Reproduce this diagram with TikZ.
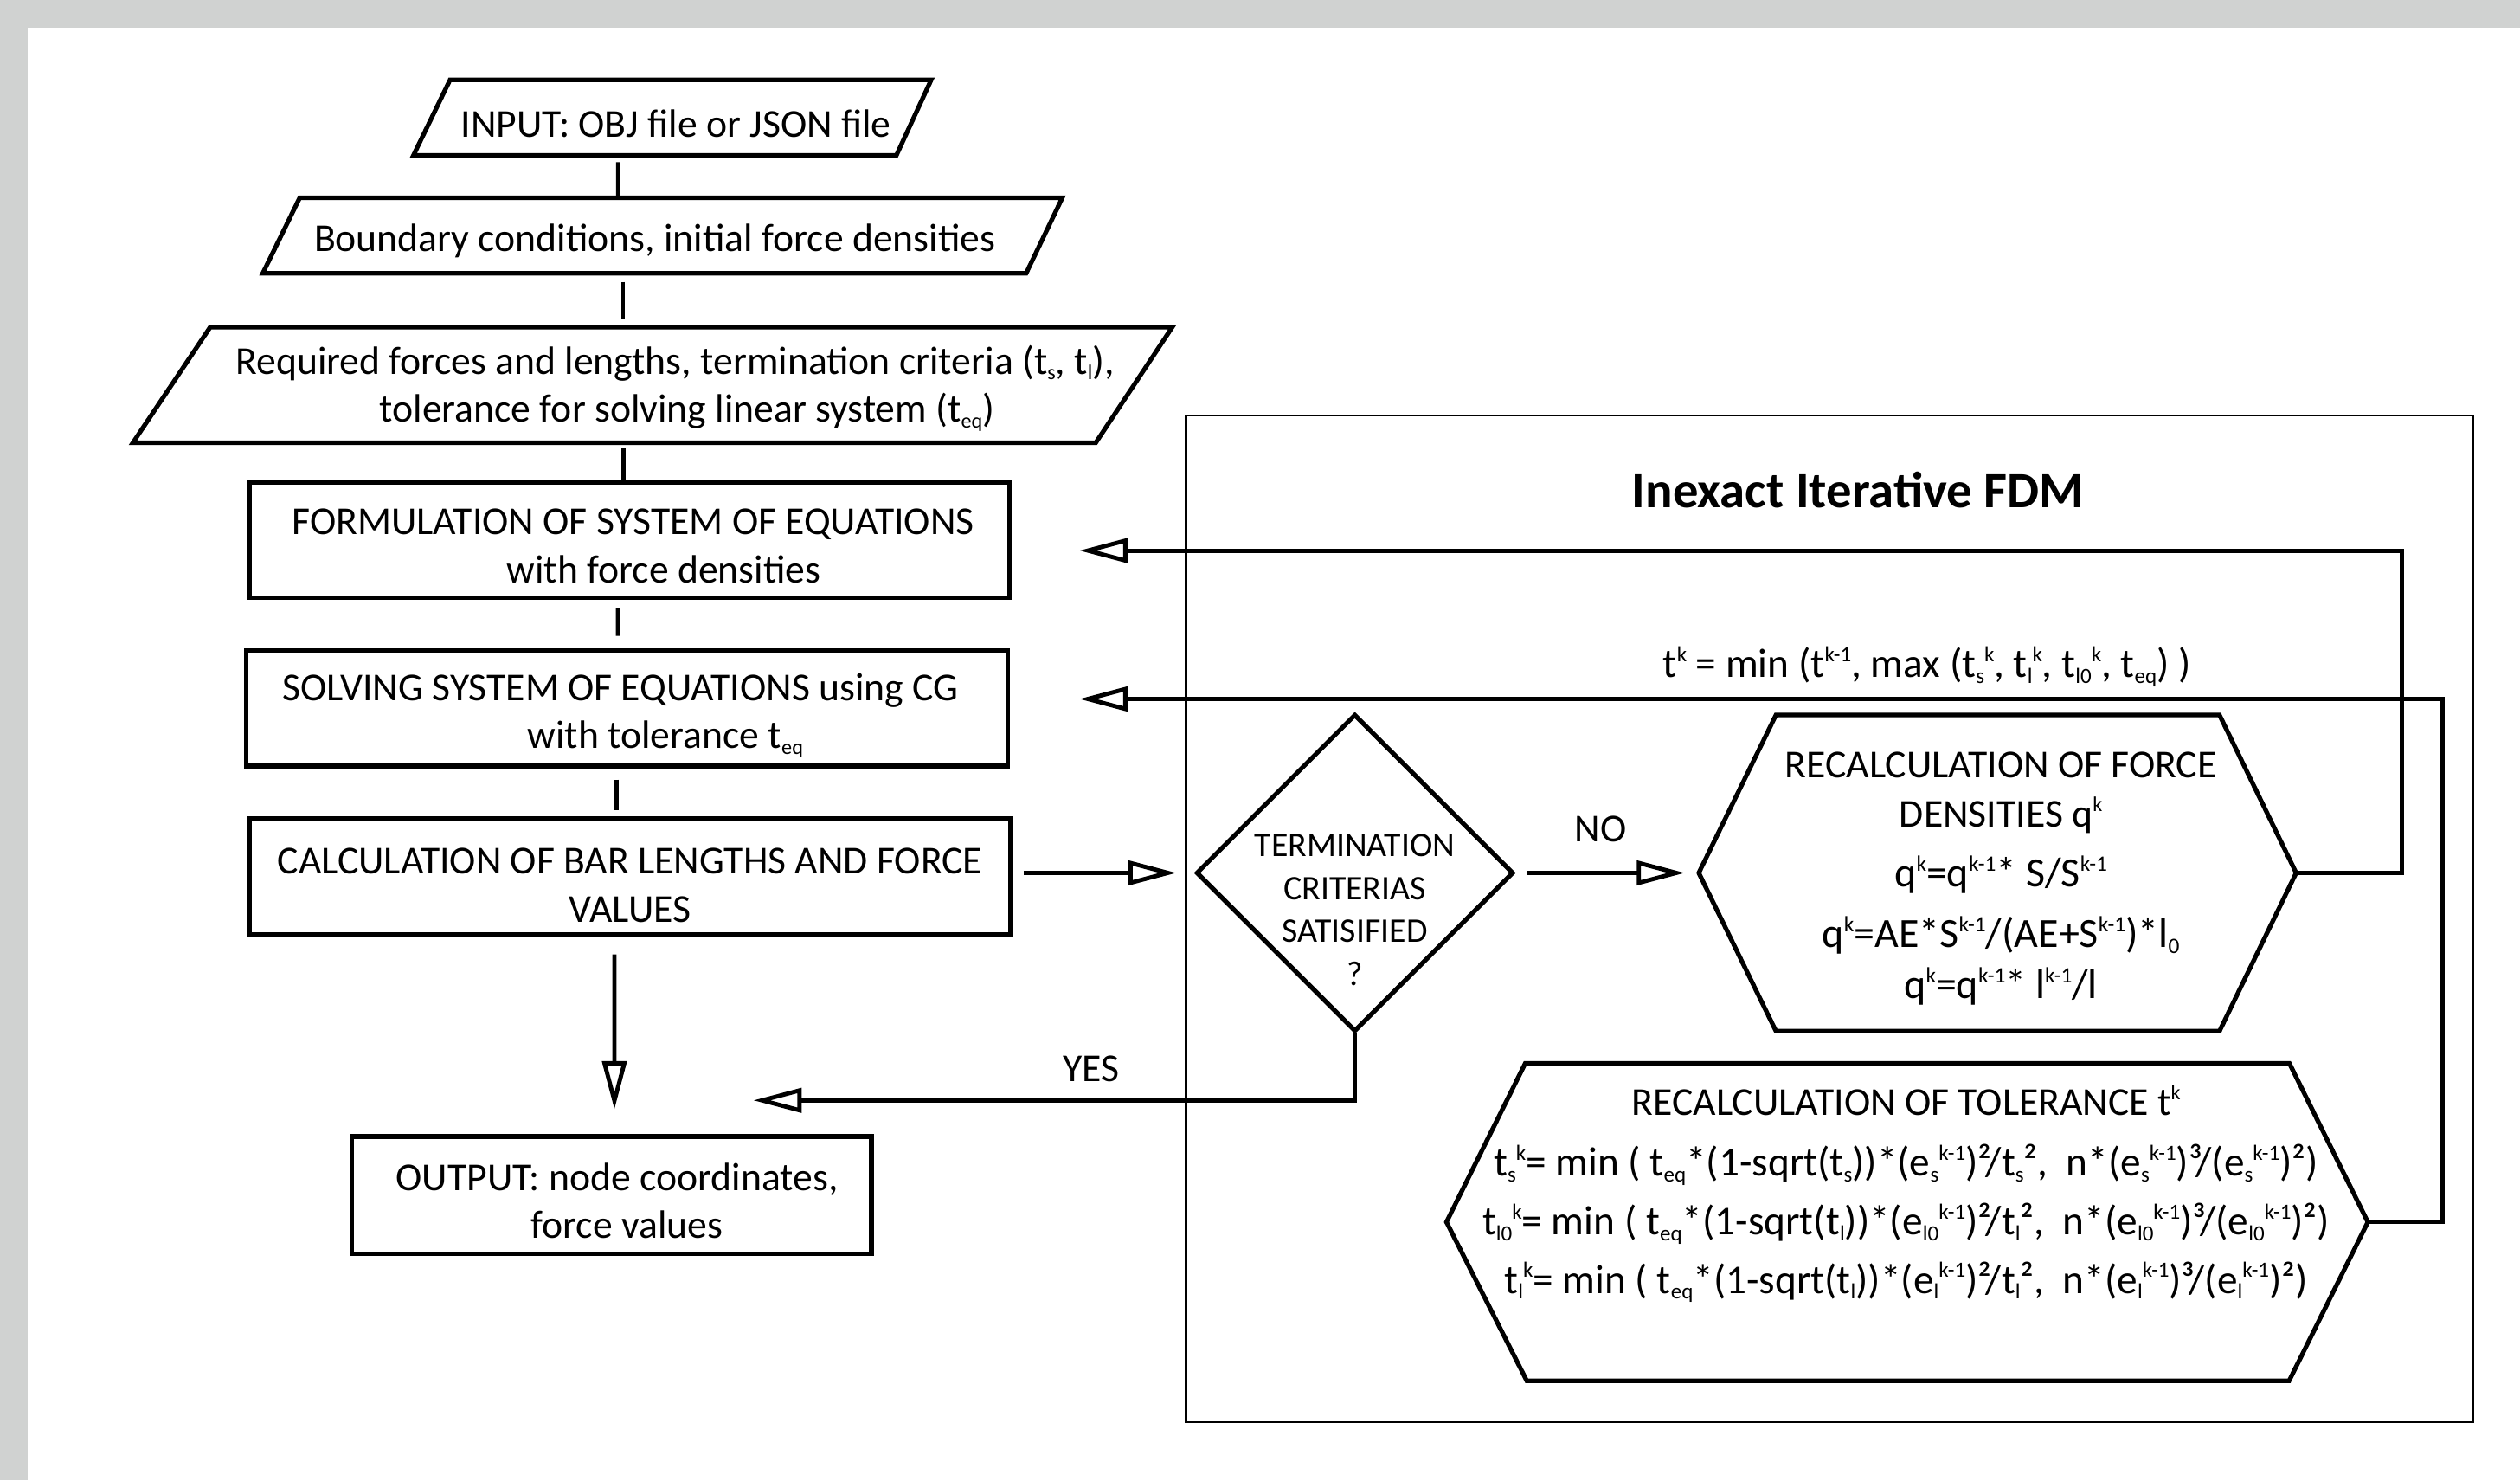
\documentclass[tikz,border=0pt]{standalone}
\usepackage{graphicx}
\usepackage{fontspec}
\setmainfont{Carlito}
\usetikzlibrary{arrows.meta,shapes.geometric,calc}
\newcommand\tsb[1]{\raisebox{-0.3ex}{\scalebox{0.53}{#1}}}
\newcommand\tsp[1]{\raisebox{0.8ex}{\scalebox{0.53}{#1}}}
\definecolor{bggray}{RGB}{208,210,209}
\begin{document}
\begin{tikzpicture}[x=0.02cm,y=-0.02cm,
  shp/.style={draw, line width=1.6pt},
  box/.style={draw, line width=1.6pt, inner sep=0pt},
  txt/.style={inner sep=0pt, align=center, font=\fontsize{14}{17.07}\selectfont},
  conn/.style={line width=1.5pt},
  arr/.style={line width=1.5pt, -{Triangle[open, length=0.6cm, width=0.3cm]}},
  frame/.style={draw, line width=0.7pt},
]
\fill[bggray] (0,0) rectangle (1568,921);
\fill[white] (17,17) rectangle (1568,921);
\useasboundingbox (0,0) rectangle (1568,921);

% parallelograms
\draw[shp] (280,49.7) -- (579.4,49.7) -- (557.7,96.7) -- (257.2,96.7) -- cycle;
\node[txt, minimum height=0.94cm] (inp) at (420.7,76.7) {INPUT: OBJ file or JSON file};
\draw[shp] (186.5,123) -- (661,123) -- (638.5,170) -- (163.5,170) -- cycle;
\node[txt, minimum height=0.94cm] (bnd) at (407.5,150) {Boundary conditions, initial force densities};
\draw[shp] (130.8,203.5) -- (729.4,203.5) -- (681.8,275.4) -- (82.7,275.4) -- cycle;
\node[txt, minimum height=1.44cm] (req) at (420,241.5) {Required forces and lengths, termination criteria (t\tsb{s}, t\tsb{l}),\\\hspace*{0.3cm}tolerance for solving linear system (t\tsb{eq})};

% rectangles
\node[box, minimum width=9.46cm, minimum height=1.44cm] (form) at (391.5,336) {};
\node[txt] (formt) at (391.5,339.5) {\hspace*{0.1cm}FORMULATION OF SYSTEM OF EQUATIONS\\\hspace*{0.86cm}with force densities};
\node[box, minimum width=9.48cm, minimum height=1.44cm] (solv) at (390,440.5) {};
\node[txt] (solvt) at (390,445.1) {\hspace*{-0.16cm}SOLVING SYSTEM OF EQUATIONS using CG\\\hspace*{0.96cm}with tolerance t\tsb{eq}};
\node[box, minimum width=9.48cm, minimum height=1.45cm] (calc) at (392,545.3) {};
\node[txt] (calct) at (392,550.6) {CALCULATION OF BAR LENGTHS AND FORCE\\VALUES};
\node[box, minimum width=6.47cm, minimum height=1.46cm] (outp) at (380.5,743.5) {};
\node[txt] (outpt) at (380.5,747) {\hspace*{0.14cm}OUTPUT: node coordinates,\\\hspace*{0.38cm}force values};

% left connectors
\draw[conn] ($(inp.south)+(-36.1,0.3)$) -- ($(bnd.north)+(-22.9,-1.8)$);
\draw[conn] ($(bnd.south)+(-19.8,1.5)$) -- ($(req.north)+(-32.3,-6.5)$);
\draw[conn] ($(req.south)+(-32,1)$) -- ($(form.north)+(-3.5,0)$);
\draw[conn] ($(form.south)+(-7,5)$) -- ($(solv.north)+(-5.5,-7.5)$);
\draw[conn] ($(solv.south)+(-6.3,7.1)$) -- ($(calc.north)+(-8.3,-3.4)$);
\draw[arr] ($(calc.south)+(-9.7,10.8)$) -- ($(outp.north)+(1.8,-15.5)$);

% frame
\draw[frame] (738,258.6) rectangle (1538.6,884.6);
\node[inner sep=0pt, font=\fontsize{18}{22}\selectfont\bfseries] (title) at (1156,304.6) {Inexact Iterative FDM};

% diamond
\node[diamond, draw, line width=1.6pt, minimum width=3.95cm, minimum height=3.95cm, inner sep=0pt] (dia) at (843,543) {};
\node[inner sep=0pt, align=center, font=\fontsize{12.2}{15.2}\selectfont] (diat) at (843,566) {TERMINATION\\CRITERIAS\\SATISIFIED\\?};

% hexagon 1
\coordinate (h1l) at (1057,543);
\coordinate (h1r) at (1428.7,543);
\draw[shp] (h1l) -- (1105,444.8) -- (1381,444.8) -- (h1r) -- (1381,641.4) -- (1105,641.4) -- cycle;
\node[txt] (h1t) at (1245,546.5) {RECALCULATION OF FORCE\\[0.4pt]DENSITIES q\tsp{k}\\[4.2pt]
{\fontsize{14.7}{17.07}\selectfont q\tsp{k}=q\tsp{k-1}* S/S\tsp{k-1}}\\[4.5pt]
{\fontsize{14.7}{17.07}\selectfont q\tsp{k}=AE*S\tsp{k-1}/(AE+S\tsp{k-1})*l\tsb{0}}\\[1pt]
{\fontsize{14.7}{17.07}\selectfont q\tsp{k}=q\tsp{k-1}* l\tsp{k-1}/l}};

% hexagon 2
\coordinate (h2l) at (900,760.2);
\coordinate (h2r) at (1473.3,760.2);
\draw[shp] (h2l) -- (949,661.5) -- (1424.5,661.5) -- (h2r) -- (1424.3,859) -- (950,859) -- cycle;
\node[inner sep=0pt, align=center, font=\fontsize{14}{20.7}\selectfont] (h2t) at (1186,742.7) {RECALCULATION OF TOLERANCE t\tsp{k}\\[1pt]
{\fontsize{14.5}{20.7}\selectfont t\tsb{s}\tsp{k}= min ( t\tsb{eq}*(1-sqrt(t\tsb{s}))*(e\tsb{s}\tsp{k-1})²/t\tsb{s}²,\ \ n*(e\tsb{s}\tsp{k-1})³/(e\tsb{s}\tsp{k-1})²)}\\
{\fontsize{14.5}{20.7}\selectfont t\tsb{l0}\tsp{k}= min ( t\tsb{eq}*(1-sqrt(t\tsb{l}))*(e\tsb{l0}\tsp{k-1})²/t\tsb{l}²,\ \ n*(e\tsb{l0}\tsp{k-1})³/(e\tsb{l0}\tsp{k-1})²)}\\
{\fontsize{14.5}{20.7}\selectfont t\tsb{l}\tsp{k}= min ( t\tsb{eq}*(1-sqrt(t\tsb{l}))*(e\tsb{l}\tsp{k-1})²/t\tsb{l}²,\ \ n*(e\tsb{l}\tsp{k-1})³/(e\tsb{l}\tsp{k-1})²)}};

% connectors in FDM box
\draw[arr] ($(calc.east)+(6.6,-2.3)$) -- ($(dia.west)+(-10.8,0)$);
\draw[arr] ($(dia.east)+(7.2,0)$) -- ($(h1l)+(-8.6,0)$);
\node[txt] (no) at (996,516) {NO};
\coordinate (ytip) at (468.8,684.5);
\draw[arr] (dia.south) |- (ytip);
\node[txt] (yes) at (679,665) {YES};
\coordinate (fb1) at (671.5,342.5);
\coordinate (fb2) at (671.5,434.8);
\draw[arr] (h1r) -- ++(65.7,0) |- (fb1);
\draw[arr] (h2r) -- ++(46.5,0) |- (fb2);
\node[inner sep=0pt, font=\fontsize{14.5}{17}\selectfont] (tk) at (1199,414.6) {t\tsp{k} = min (t\tsp{k-1}, max (t\tsb{s}\tsp{k}, t\tsb{l}\tsp{k}, t\tsb{l0}\tsp{k}, t\tsb{eq}) )};
\end{tikzpicture}
\end{document}
